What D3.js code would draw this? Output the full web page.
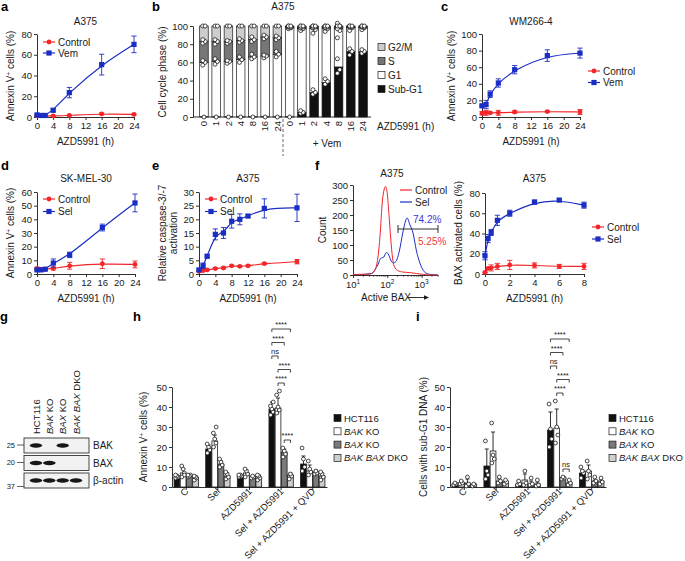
<!DOCTYPE html>
<html>
<head>
<meta charset="utf-8">
<script src="https://cdn.jsdelivr.net/npm/d3@7"></script>
<style>
  body { margin: 0; background: #fff; }
  svg { font-family: "Liberation Sans", Arial, sans-serif; }
</style>
</head>
<body>
<svg id="fig" width="685" height="561"></svg>
<script>
// ---------- data ----------
// a: A375, Annexin V+ (%)
const aTime = [0, 1, 2, 4, 8, 16, 24];
const aCtrl = [1, 1, 1, 1, 1.5, 3, 2.5];
const aCtrlErr = [0.5, 0.5, 0.5, 0.5, 0.5, 0.8, 0.8];
const aVem = [2, 1.5, 1.5, 6.5, 23.5, 50.5, 70];
const aVemErr = [1, 0.5, 0.5, 1.5, 5, 10, 8];

// b: A375 cell cycle, cumulative tops (%)
const bLabels = ["0", "1", "2", "4", "8", "16", "24", "0", "1", "2", "4", "8", "16", "24"];
const bSubTop = [0.5, 0.5, 0.5, 0.5, 0.5, 0.5, 0.5, 0.5, 5, 27, 38, 55, 72, 72];
const bG1Top = [60, 61, 61, 63, 66, 67, 69, 98, 97, 97, 97, 97, 98, 98];
const bSTop = [83, 83, 83, 84, 85, 88, 87, 99, 98.5, 99, 99, 99, 99, 99];
const bSubReps = [[0], [0], [0], [0], [0], [0], [0], [0], [4, 5, 7], [25, 27, 30], [36, 39, 42], [48, 52, 64], [68, 72, 75], [70, 72, 74]];
const bG1Reps = [[57, 60, 62], [58, 61, 64], [59, 61, 62], [60, 63, 66], [64, 66, 69], [65, 67, 68], [66, 69, 72],
                 [97, 98, 99], [95, 97, 98], [92, 96, 98], [94, 97, 98], [87, 95, 101], [95, 98, 99], [96, 98, 99]];
const bSReps = [[81, 83, 85], [80, 83, 85], [81, 83, 84], [82, 84, 86], [83, 85, 88], [86, 88, 90], [85, 87, 89],
                [99, 99, 100], [98, 99, 100], [98, 99, 100], [98, 99, 100], [97, 100, 103], [99, 99, 100], [99, 99, 100]];
const bPhases = ["G2/M", "S", "G1", "Sub-G1"];

// c: WM266-4
const cTime = [0, 1, 2, 4, 8, 16, 24];
const cCtrl = [4.5, 5, 5, 5, 6, 6.5, 6];
const cCtrlErr = [2, 3, 1, 3, 1.5, 1, 3];
const cVem = [13.5, 15, 27.5, 41, 57, 74, 77];
const cVemErr = [1, 5, 4, 5, 5, 7, 6];

// d: SK-MEL-30
const dTime = [0, 1, 2, 4, 8, 16, 24];
const dCtrl = [4, 3.5, 3.5, 4, 6, 7.5, 7];
const dCtrlErr = [1, 1, 0.5, 1, 2.5, 3.5, 2.5];
const dSel = [3, 3, 3.5, 8, 14, 34, 52];
const dSelErr = [0.5, 0.5, 0.5, 3, 2, 2.5, 6.5];

// e: caspase-3/-7
const eTime = [0, 1, 2, 4, 6, 8, 10, 12, 16, 24];
const eCtrl = [1, 1.2, 1.5, 2, 2.2, 3, 2.8, 3, 3.8, 4.5];
const eCtrlErr = [0.2, 0.2, 0.2, 0.3, 0.3, 0.3, 0.3, 0.3, 0.4, 0.8];
const eSel = [1.5, 3, 6.5, 14.5, 15, 19.3, 20, 21.2, 24, 24.2];
const eSelErr = [0.3, 1, 0.5, 2, 2, 2.5, 2, 0.5, 3.5, 5];

// f: active BAX histogram [intensity, count]
const histCtrl = [[10, 2], [20, 2], [30, 3], [35, 5], [45, 20], [56, 80], [63, 150], [71, 240], [79, 280], [89, 295],
                  [100, 270], [112, 200], [126, 120], [141, 60], [158, 30], [200, 15], [282, 10], [447, 8], [708, 5],
                  [1122, 2], [1778, 0], [3000, 0]];
const histSel = [[10, 1], [18, 2], [35, 5], [45, 20], [56, 40], [63, 55], [79, 60], [93, 75], [107, 70], [126, 50],
                 [148, 40], [178, 45], [224, 80], [282, 140], [339, 180], [380, 190], [447, 170], [562, 140], [708, 80],
                 [891, 40], [1122, 15], [1413, 5], [1778, 2], [3000, 0]];
const histPct = ["74.2%", "5.25%"];

// f right: BAX activated cells
const fTime = [0, 0.25, 0.5, 1, 2, 4, 6, 8];
const fCtrl = [1.5, 5.5, 6, 7.5, 9, 8.5, 7.5, 7.5];
const fCtrlErr = [0.5, 1, 3, 3, 4.5, 2.5, 2, 3];
const fSel = [18, 35, 41, 53, 60, 71, 73, 68];
const fSelErr = [4, 4, 3, 5, 3, 2, 1, 3];

// g: blot
const blotLanes = [["HCT116"], ["BAK", " KO"], ["BAX", " KO"], ["BAK BAX", " DKO"]];
const blotRows = ["BAK", "BAX", "\u03b2-actin"];
const blotMW = ["25", "20", "37"];
const blotBands = [[1, 0, 1, 0], [1, 1, 0, 0], [1, 1, 1, 1]];

// h / i
const cats = ["C", "Sel", "AZD5991", "Sel + AZD5991", "Sel + AZD5991 + QVD"];
const lines = ["HCT116", "BAK KO", "BAX KO", "BAK BAX DKO"];
const hMean = [[5, 7, 5.5, 4.5], [19, 23, 11.5, 5.5], [5.5, 7, 5, 4.5], [39, 39.5, 17.5, 6], [11.5, 8, 7.5, 5.5]];
const hErr = [[1, 2, 1, 1], [2, 3, 1.5, 1.5], [1, 1.5, 0.5, 1], [3.5, 5, 1.5, 1], [4, 3, 1, 1.5]];
const hReps = [
  [[4.5, 5, 5.5, 6], [5, 7, 9, 10.5, 6], [5, 6, 5.5, 6], [3.5, 4.5, 5, 5.5]],
  [[17, 18.5, 20, 21.5], [20, 22, 24, 27, 30], [10, 11, 12.5, 14], [4, 5, 6.5, 7.5]],
  [[5, 5.5, 6, 6], [5, 6.5, 8, 9], [4.5, 5, 5.5], [3.5, 4.5, 5.5, 6]],
  [[36, 37.5, 39, 40.5, 42.5], [37, 38.5, 40, 46, 48], [15, 16.5, 18, 19.5], [4, 5.5, 6.5]],
  [[8, 10, 14, 19.5], [6, 7.5, 9, 13], [6.5, 7, 8], [3.5, 5, 6.5, 7.5]]
];
const hSig = [[0, 3, "****"], [0, 2, "****"], [0, 1, "ns"], [1, 3, "****"], [1, 2, "****"], [2, 3, "****"]];

const iMean = [[1.5, 2, 2, 1], [10.5, 18, 3, 2.5], [1.5, 3.5, 1.5, 1.5], [28.5, 29.5, 4.5, 2], [7, 8, 3, 3]];
const iErr = [[0.5, 1, 2, 0.5], [8.5, 9.5, 1, 0.5], [1, 3, 1.5, 1], [9, 9.5, 0.5, 0.5], [1.5, 3, 0.5, 1]];
const iReps = [
  [[1, 1.5, 2], [1.5, 2, 3], [0.5, 1.5, 5], [0.5, 1, 1.5]],
  [[4, 6, 8, 23], [12, 14, 16, 32], [2, 3, 5], [1.5, 2.5, 3.5]],
  [[1, 1.5, 3], [1, 2, 8], [1, 1.5, 4.5], [0.5, 1, 3.5]],
  [[20, 24, 29, 41.5], [22, 26, 30, 43], [4, 4.5, 5], [1, 2, 3.5]],
  [[4.5, 7, 8, 10], [4, 6, 8, 13], [2, 3, 5], [1.5, 2.5, 4.5]]
];
const iSig = [[0, 3, "****"], [0, 2, "****"], [0, 1, "ns"], [1, 3, "****"], [1, 2, "****"], [2, 3, "ns"]];

// ---------- drawing ----------
const svg = d3.select("#fig");
const RED = "#f3262a", BLUE = "#1b2ec4", INK = "#1a1a1a";

svg.append("defs").append("filter").attr("id", "blur")
  .append("feGaussianBlur").attr("stdDeviation", 0.7);

function styleAxis(sel) {
  sel.attr("font-family", null).attr("font-size", null);
  sel.select(".domain").attr("stroke", INK).attr("stroke-width", 0.9);
  sel.selectAll(".tick line").attr("stroke", INK).attr("stroke-width", 0.9);
  sel.selectAll(".tick text").attr("fill", INK).style("font-size", "9.5px");
  return sel;
}

function txt(g, x, y, s, size, anchor, fill) {
  return g.append("text").attr("x", x).attr("y", y).attr("text-anchor", anchor || "middle")
    .attr("fill", fill || INK).style("font-size", (size || 10) + "px").text(s);
}

function letter(x, y, s) {
  svg.append("text").attr("x", x).attr("y", y).style("font-size", "13px")
    .style("font-weight", "bold").attr("fill", "#000").text(s);
}

// rotated axis title; parts = [[text, superscript?, dy]]
function yTitle(g, x, y, parts) {
  const t = g.append("text").attr("transform", `translate(${x},${y}) rotate(-90)`)
    .attr("text-anchor", "middle").attr("fill", INK).style("font-size", "10px");
  parts.forEach(p => {
    if (p[1]) t.append("tspan").attr("dy", -3.5).style("font-size", "6.5px").text(p[0]);
    else t.append("tspan").attr("dy", p[2] || 0).text(p[0]);
  });
  return t;
}
const annexinTitle = [["Annexin V"], ["+", true], [" cells (%)", false, 3.5]];

function marker(g, type, cx, cy, color) {
  if (type === "circle") g.append("circle").attr("cx", cx).attr("cy", cy).attr("r", 2.4).attr("fill", color);
  else g.append("rect").attr("x", cx - 2.6).attr("y", cy - 2.6).attr("width", 5.2).attr("height", 5.2).attr("fill", color);
}

function legendItem(g, x, y, color, type, label) {
  g.append("line").attr("x1", x).attr("x2", x + 12).attr("y1", y).attr("y2", y)
    .attr("stroke", color).attr("stroke-width", 1.2);
  if (type) marker(g, type, x + 6, y, color);
  txt(g, x + 15, y + 3.6, label, 10, "start");
}

function linePanel(o) {
  const g = svg.append("g");
  const x = d3.scaleLinear().domain(o.xdom).range([o.left, o.right]);
  const y = d3.scaleLinear().domain(o.ydom).range([o.bottom, o.top]);
  styleAxis(g.append("g").attr("transform", `translate(0,${o.bottom})`)
    .call(d3.axisBottom(x).tickValues(o.xticks).tickSize(3).tickSizeOuter(0).tickPadding(2)));
  styleAxis(g.append("g").attr("transform", `translate(${o.left},0)`)
    .call(d3.axisLeft(y).tickValues(o.yticks).tickSize(3).tickSizeOuter(0).tickPadding(2)));

  o.series.forEach(s => {
    const pts = s.t.map((t, i) => ({ t, v: s.v[i], e: s.e[i] }));
    g.append("path").datum(pts).attr("fill", "none").attr("stroke", s.color).attr("stroke-width", 1.2)
      .attr("d", d3.line().x(d => x(d.t)).y(d => y(d.v)).curve(d3.curveBasis));
    const eb = g.append("g").attr("stroke", s.color).attr("stroke-width", 0.9);
    pts.forEach(d => {
      const cx = x(d.t), hi = y(d.v + d.e), lo = y(Math.max(d.v - d.e, o.ydom[0]));
      eb.append("line").attr("x1", cx).attr("x2", cx).attr("y1", lo).attr("y2", hi);
      eb.append("line").attr("x1", cx - 2.6).attr("x2", cx + 2.6).attr("y1", hi).attr("y2", hi);
      eb.append("line").attr("x1", cx - 2.6).attr("x2", cx + 2.6).attr("y1", lo).attr("y2", lo);
      marker(g, s.marker, cx, y(d.v), s.color);
    });
  });

  const mid = (o.left + o.right) / 2;
  txt(g, mid, o.titleY, o.title, 10);
  txt(g, mid, o.bottom + 28, "AZD5991 (h)", 10);
  o.ytitle(g);
  o.series.forEach((s, i) => legendItem(g, o.legX, o.legY + i * o.legStep, s.color, s.marker, s.name));
}

// ----- a -----
letter(1, 11, "a");
linePanel({
  left: 37, right: 134, bottom: 117, top: 34, xdom: [0, 24], ydom: [0, 80],
  xticks: [0, 4, 8, 12, 16, 20, 24], yticks: [0, 20, 40, 60, 80],
  title: "A375", titleY: 25,
  ytitle: g => yTitle(g, 14, 76, annexinTitle),
  legX: 43, legY: 42, legStep: 11,
  series: [
    { name: "Control", t: aTime, v: aCtrl, e: aCtrlErr, color: RED, marker: "circle" },
    { name: "Vem", t: aTime, v: aVem, e: aVemErr, color: BLUE, marker: "square" }
  ]
});

// ----- b -----
letter(152, 11, "b");
(function () {
  const g = svg.append("g");
  const x = d3.scaleBand().domain(d3.range(bLabels.length)).range([196, 371]).padding(0.3);
  const y = d3.scaleLinear().domain([0, 100]).range([117, 26]);
  styleAxis(g.append("g").attr("transform", "translate(193,0)")
    .call(d3.axisLeft(y).tickValues([0, 20, 40, 60, 80, 100]).tickSize(3).tickSizeOuter(0).tickPadding(2)));
  g.append("line").attr("x1", 193).attr("x2", 371).attr("y1", 117).attr("y2", 117)
    .attr("stroke", INK).attr("stroke-width", 0.9);

  const fills = ["#111", "#fff", "#777", "#cdcdcd"];
  bLabels.forEach((lab, i) => {
    const x0 = x(i), w = x.bandwidth();
    const bounds = [0, bSubTop[i], bG1Top[i], bSTop[i], 100];
    for (let k = 0; k < 4; k++) {
      g.append("rect").attr("x", x0).attr("width", w)
        .attr("y", y(bounds[k + 1])).attr("height", Math.max(0, y(bounds[k]) - y(bounds[k + 1])))
        .attr("fill", fills[k]).attr("stroke", INK).attr("stroke-width", 0.7);
    }
    const cx = x0 + w / 2;
    [bSubReps[i], bG1Reps[i], bSReps[i], [100, 100]].forEach(reps => {
      reps.forEach((v, j) => {
        g.append("circle").attr("cx", cx + (j % 2 ? 1.2 : -1.2) * (reps.length > 1 ? 1 : 0)).attr("cy", y(v))
          .attr("r", 2).attr("fill", "#fff").attr("stroke", INK).attr("stroke-width", 0.8);
      });
    });
    g.append("text").attr("transform", `translate(${cx + 3.3},121) rotate(-90)`)
      .attr("text-anchor", "end").attr("fill", INK).style("font-size", "9.5px").text(lab);
  });
  g.append("line").attr("x1", 283).attr("x2", 283).attr("y1", 119).attr("y2", 156)
    .attr("stroke", "#555").attr("stroke-width", 0.9).attr("stroke-dasharray", "3,2");
  txt(g, 327, 147, "+ Vem", 10);
  txt(g, 377, 130, "AZD5991 (h)", 10, "start");
  txt(g, 283, 10, "A375", 10);
  yTitle(g, 166, 72, [["Cell cycle phase (%)"]]);
  const legFill = ["#cdcdcd", "#777", "#fff", "#111"];
  bPhases.forEach((p, k) => {
    const yy = 47 + k * 14;
    g.append("rect").attr("x", 378).attr("y", yy - 3.5).attr("width", 7).attr("height", 7)
      .attr("fill", legFill[k]).attr("stroke", INK).attr("stroke-width", 0.7);
    txt(g, 388, yy + 3.6, p, 10, "start");
  });
})();

// ----- c -----
letter(441, 11, "c");
linePanel({
  left: 482, right: 580, bottom: 117, top: 34, xdom: [0, 24], ydom: [0, 100],
  xticks: [0, 4, 8, 12, 16, 20, 24], yticks: [0, 20, 40, 60, 80, 100],
  title: "WM266-4", titleY: 25,
  ytitle: g => yTitle(g, 455, 76, annexinTitle),
  legX: 588, legY: 71, legStep: 11.5,
  series: [
    { name: "Control", t: cTime, v: cCtrl, e: cCtrlErr, color: RED, marker: "circle" },
    { name: "Vem", t: cTime, v: cVem, e: cVemErr, color: BLUE, marker: "square" }
  ]
});

// ----- d -----
letter(1, 170, "d");
linePanel({
  left: 37, right: 135, bottom: 274, top: 192, xdom: [0, 24], ydom: [0, 60],
  xticks: [0, 4, 8, 12, 16, 20, 24], yticks: [0, 10, 20, 30, 40, 50, 60],
  title: "SK-MEL-30", titleY: 182,
  ytitle: g => yTitle(g, 14, 233, annexinTitle),
  legX: 43, legY: 199, legStep: 12.5,
  series: [
    { name: "Control", t: dTime, v: dCtrl, e: dCtrlErr, color: RED, marker: "circle" },
    { name: "Sel", t: dTime, v: dSel, e: dSelErr, color: BLUE, marker: "square" }
  ]
});

// ----- e -----
letter(152, 170, "e");
linePanel({
  left: 199, right: 297, bottom: 274, top: 192, xdom: [0, 24], ydom: [0, 30],
  xticks: [0, 4, 8, 12, 16, 20, 24], yticks: [0, 5, 10, 15, 20, 25, 30],
  title: "A375", titleY: 182,
  ytitle: g => { yTitle(g, 166, 233, [["Relative caspase-3/-7"]]); yTitle(g, 177, 233, [["activation"]]); },
  legX: 205, legY: 199, legStep: 12.5,
  series: [
    { name: "Control", t: eTime, v: eCtrl, e: eCtrlErr, color: RED, marker: "circle" },
    { name: "Sel", t: eTime, v: eSel, e: eSelErr, color: BLUE, marker: "square" }
  ]
});

// ----- f (histogram) -----
letter(315, 170, "f");
(function () {
  const g = svg.append("g");
  const x = d3.scaleLog().domain([10, 3000]).range([353, 438]);
  const y = d3.scaleLinear().domain([0, 300]).range([275, 185]);
  styleAxis(g.append("g").attr("transform", "translate(353,0)")
    .call(d3.axisLeft(y).tickValues([0, 50, 100, 150, 200, 250, 300]).tickSize(3).tickSizeOuter(0).tickPadding(2)));
  styleAxis(g.append("g").attr("transform", "translate(0,275)")
    .call(d3.axisBottom(x).tickValues([10, 100, 1000]).tickSize(3).tickSizeOuter(0).tickPadding(2).tickFormat("")));
  const minor = [20, 30, 40, 50, 60, 70, 80, 90, 200, 300, 400, 500, 600, 700, 800, 900, 2000, 3000];
  minor.forEach(v => g.append("line").attr("x1", x(v)).attr("x2", x(v)).attr("y1", 275).attr("y2", 276.8)
    .attr("stroke", INK).attr("stroke-width", 0.7));
  [1, 2, 3].forEach(p => {
    const t = g.append("text").attr("x", x(Math.pow(10, p))).attr("y", 288).attr("text-anchor", "middle")
      .attr("fill", INK).style("font-size", "9.5px");
    t.append("tspan").text("10");
    t.append("tspan").attr("dy", -4).style("font-size", "6.5px").text(p);
  });
  const line = d3.line().x(d => x(d[0])).y(d => y(d[1])).curve(d3.curveMonotoneX);
  g.append("path").datum(histSel).attr("d", line).attr("fill", "none").attr("stroke", BLUE).attr("stroke-width", 1);
  g.append("path").datum(histCtrl).attr("d", line).attr("fill", "none").attr("stroke", RED).attr("stroke-width", 1);

  g.append("line").attr("x1", 398).attr("x2", 438).attr("y1", 229).attr("y2", 229).attr("stroke", INK).attr("stroke-width", 0.9);
  [398, 438].forEach(xx => g.append("line").attr("x1", xx).attr("x2", xx).attr("y1", 225).attr("y2", 233)
    .attr("stroke", INK).attr("stroke-width", 0.9));
  txt(g, 413, 223, histPct[0], 10, "start", "#3a3ad6");
  txt(g, 418, 245, histPct[1], 10, "start", "#f3363a");

  txt(g, 392, 177, "A375", 10);
  yTitle(g, 326, 230, [["Count"]]);
  txt(g, 361, 301, "Active BAX", 10, "start");
  g.append("line").attr("x1", 408).attr("x2", 426).attr("y1", 297.5).attr("y2", 297.5).attr("stroke", INK).attr("stroke-width", 0.9);
  g.append("path").attr("d", "M429,297.5 L424,295.3 L424,299.7 Z").attr("fill", INK);
  legendItem(g, 400, 190, RED, null, "Control");
  legendItem(g, 400, 202, BLUE, null, "Sel");
})();

// ----- f (BAX activated) -----
linePanel({
  left: 485, right: 584, bottom: 274, top: 193, xdom: [0, 8], ydom: [0, 80],
  xticks: [0, 2, 4, 6, 8], yticks: [0, 20, 40, 60, 80],
  title: "A375", titleY: 182,
  ytitle: g => yTitle(g, 462, 233, [["BAX activated cells (%)"]]),
  legX: 592, legY: 227, legStep: 12,
  series: [
    { name: "Control", t: fTime, v: fCtrl, e: fCtrlErr, color: RED, marker: "circle" },
    { name: "Sel", t: fTime, v: fSel, e: fSelErr, color: BLUE, marker: "square" }
  ]
});

// ----- g (blot) -----
letter(0, 321, "g");
(function () {
  const g = svg.append("g");
  const lane = d3.scalePoint().domain(d3.range(blotLanes.length)).range([36, 76]);
  const rowY = d3.scalePoint().domain(d3.range(blotRows.length)).range([445.5, 480.5]);
  blotLanes.forEach((parts, i) => {
    const t = g.append("text").attr("transform", `translate(${lane(i) + 3.5},434) rotate(-90)`)
      .attr("fill", INK).style("font-size", "9.5px");
    parts.forEach((p, k) => t.append("tspan").style("font-style", parts.length > 1 && k === 0 ? "italic" : "normal").text(p));
  });
  blotRows.forEach((r, k) => {
    const cy = rowY(k);
    g.append("rect").attr("x", 24).attr("y", cy - 7.5).attr("width", 65).attr("height", 15)
      .attr("fill", "#f2f2f2").attr("stroke", "#333").attr("stroke-width", 0.9);
    blotBands[k].forEach((b, i) => {
      if (b) g.append("ellipse").attr("cx", lane(i)).attr("cy", cy).attr("rx", 6.3).attr("ry", 2.2)
        .attr("fill", "#141414").attr("filter", "url(#blur)");
    });
    txt(g, 93, cy + 3.6, r, 10, "start");
    const my = k === 2 ? cy + 6 : cy - 0.5;
    g.append("line").attr("x1", 17).attr("x2", 24).attr("y1", my).attr("y2", my).attr("stroke", "#333").attr("stroke-width", 0.8);
    txt(g, 15, my + 2.6, blotMW[k], 7.5, "end");
  });
})();

// ----- h / i bar charts -----
function barPanel(o) {
  const g = svg.append("g");
  const x0 = d3.scaleBand().domain(cats).range([o.left, o.right]).paddingInner(0.2).paddingOuter(0.05);
  const x1 = d3.scaleBand().domain(lines).range([0, x0.bandwidth()]).padding(0.08);
  const y = d3.scaleLinear().domain([0, 50]).range([487, 387]);
  styleAxis(g.append("g").attr("transform", `translate(${o.left},0)`)
    .call(d3.axisLeft(y).tickValues([0, 10, 20, 30, 40, 50]).tickSize(3).tickSizeOuter(0).tickPadding(2)));
  styleAxis(g.append("g").attr("transform", "translate(0,487)")
    .call(d3.axisBottom(x0).tickSize(3).tickSizeOuter(0).tickFormat("")));
  const fills = ["#111", "#fff", "#7a7a7a", "#cfcfcf"];
  const jit = [-1.2, 1.2, 0, -1.4, 1.4];
  cats.forEach((c, ci) => {
    lines.forEach((l, li) => {
      const bx = x0(c) + x1(l), w = x1.bandwidth(), m = o.mean[ci][li], e = o.err[ci][li];
      const cx = bx + w / 2;
      g.append("line").attr("x1", cx).attr("x2", cx).attr("y1", y(m)).attr("y2", y(m + e)).attr("stroke", INK).attr("stroke-width", 0.9);
      g.append("line").attr("x1", cx - 2).attr("x2", cx + 2).attr("y1", y(m + e)).attr("y2", y(m + e)).attr("stroke", INK).attr("stroke-width", 0.9);
      g.append("rect").attr("x", bx).attr("width", w).attr("y", y(m)).attr("height", 487 - y(m))
        .attr("fill", fills[li]).attr("stroke", INK).attr("stroke-width", 0.8);
      o.reps[ci][li].forEach((v, j) => g.append("circle").attr("cx", cx + jit[j]).attr("cy", y(v)).attr("r", 1.9)
        .attr("fill", "#fff").attr("stroke", INK).attr("stroke-width", 0.8));
    });
    g.append("text").attr("transform", `translate(${x0(c) + x0.bandwidth() / 2 + 3},492) rotate(-45)`)
      .attr("text-anchor", "end").attr("fill", INK).style("font-size", "9.5px").text(c);
  });

  // significance brackets on the Sel + AZD5991 group
  const sc = cats[3];
  const barX = li => x0(sc) + x1(lines[li]) + x1.bandwidth() / 2;
  const topOf = (a, b) => d3.max(d3.range(a, b + 1), li => Math.max(o.mean[3][li] + o.err[3][li], d3.max(o.reps[3][li])));
  const stackBase = y(topOf(0, 3)) - 8;
  o.sig.forEach((s, k) => {
    const yy = k < 5 ? stackBase - (4 - k) * 13.5 : y(topOf(s[0], s[1])) - 8;
    const xa = barX(s[0]), xb = barX(s[1]);
    g.append("path").attr("d", `M${xa},${yy + 3}V${yy}H${xb}V${yy + 3}`).attr("fill", "none")
      .attr("stroke", INK).attr("stroke-width", 0.8);
    txt(g, (xa + xb) / 2, yy - 2, s[2], 7.5);
  });

  o.ytitle(g);
  lines.forEach((l, li) => {
    const yy = 418 + li * 13.3;
    g.append("rect").attr("x", o.legX).attr("y", yy - 3.5).attr("width", 7).attr("height", 7)
      .attr("fill", fills[li]).attr("stroke", INK).attr("stroke-width", 0.7);
    const t = g.append("text").attr("x", o.legX + o.legGap).attr("y", yy + 3.5).attr("fill", INK).style("font-size", "9.5px");
    const words = l.split(" ");
    if (words.length === 1) t.text(l);
    else {
      t.append("tspan").style("font-style", "italic").text(words.slice(0, -1).join(" "));
      t.append("tspan").text(" " + words[words.length - 1]);
    }
  });
}

letter(133, 321, "h");
barPanel({
  left: 172, right: 327, mean: hMean, err: hErr, reps: hReps, sig: hSig, legX: 334, legGap: 10,
  ytitle: g => yTitle(g, 147, 437, annexinTitle)
});

letter(416, 321, "i");
barPanel({
  left: 450, right: 606, mean: iMean, err: iErr, reps: iReps, sig: iSig, legX: 609, legGap: 10,
  ytitle: g => yTitle(g, 427, 437, [["Cells with sub-G1 DNA (%)"]])
});
</script>
</body>
</html>
